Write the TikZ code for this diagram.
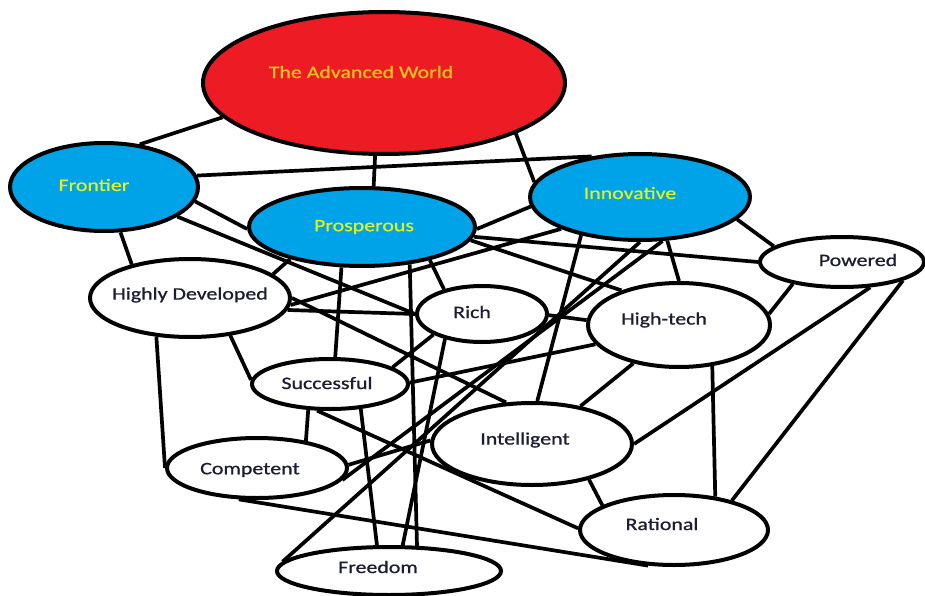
\documentclass[tikz,border=0pt]{standalone}
\usepackage{fontspec}
\setmainfont{Carlito}
\newfontfamily\lblfont{Carlito}[FakeBold=0.7]
\usetikzlibrary{shapes.geometric,backgrounds}
\definecolor{pred}{RGB}{237,28,36}
\definecolor{pblue}{RGB}{0,162,232}
\definecolor{advtxt}{RGB}{250,195,25}
\definecolor{bluetxt}{RGB}{225,240,35}
\definecolor{darktxt}{RGB}{28,28,50}
\newcommand{\mylbl}[1]{\scalebox{1.25}[1]{#1}}
\tikzset{
  ell/.style={ellipse, draw=black, line width=4pt, inner sep=0pt, fill=white},
  lbl/.style={inner sep=0pt, font=\lblfont\fontsize{17.5}{20}\selectfont, text=darktxt},
  edge/.style={line width=3.7pt, black},
}
\begin{document}
\begin{tikzpicture}[x=1pt,y=-1pt]
\useasboundingbox (0,0) rectangle (925,596);
% nodes
\node[ell, fill=pred,  minimum width=362pt, minimum height=142pt] (adv)  at (384,83)  {};
\node[ell, fill=pblue, minimum width=188pt, minimum height=88pt]  (fro)  at (104,187) {};
\node[ell, fill=pblue, minimum width=226pt, minimum height=78pt]  (pro)  at (362,227) {};
\node[ell, fill=pblue, minimum width=220pt, minimum height=86pt]  (inn)  at (640,197) {};
\node[ell, minimum width=200pt, minimum height=78pt] (hd)   at (190,298) {};
\node[ell, minimum width=130pt, minimum height=56pt] (rich) at (482,314) {};
\node[ell, minimum width=182pt, minimum height=84pt] (ht)   at (679,325) {};
\node[ell, minimum width=164pt, minimum height=50pt] (pow)  at (842,262) {};
\node[ell, minimum width=156pt, minimum height=50pt] (suc)  at (330,384) {};
\node[ell, minimum width=200pt, minimum height=82pt] (int)  at (532,444) {};
\node[ell, minimum width=180pt, minimum height=60pt] (com)  at (257,468) {};
\node[ell, minimum width=188pt, minimum height=70pt] (rat)  at (674,530) {};
\node[ell, minimum width=224pt, minimum height=48pt] (fre)  at (389,571) {};
% labels
\node[lbl, text=advtxt]  (advt)  at (361,72)  {\mylbl{The Advanced World}};
\node[lbl, text=bluetxt] (frot)  at (94,185)  {\mylbl{Frontier}};
\node[lbl, text=bluetxt] (prot)  at (364,227) {\mylbl{Prosperous}};
\node[lbl, text=bluetxt] (innt)  at (630,193) {\mylbl{Innovative}};
\node[lbl] (hdt)   at (190,295) {\mylbl{Highly Developed}};
\node[lbl] (richt) at (472,312) {\mylbl{Rich}};
\node[lbl] (htt)   at (664,320) {\mylbl{High-tech}};
\node[lbl] (powt)  at (858,260) {\mylbl{Powered}};
\node[lbl] (suct)  at (327,383) {\mylbl{Successful}};
\node[lbl] (intt)  at (525,440) {\mylbl{Intelligent}};
\node[lbl] (comt)  at (250,470) {\mylbl{Competent}};
\node[lbl] (ratt)  at (662,524) {\mylbl{Rational}};
\node[lbl] (fret)  at (378,567) {\mylbl{Freedom}};
% edges
\begin{scope}[on background layer]
\draw[edge] (adv.192) -- (fro.50);
\draw[edge] (adv.263) -- (pro.74);
\draw[edge] (adv.339) -- (inn.172);
\draw[edge] (fro.7)   -- (inn.140);
\draw[edge] (fro.351) -- (pro.181);
\draw[edge] (fro.338) -- (rich.180);
\draw[edge] (fro.290) -- (hd.150);
\draw[edge] (hd.16)   -- (pro.204);
\draw[edge] (hd.356)  -- (inn.202);
\draw[edge] (hd.353)  -- (rich.180);
\draw[edge] (hd.0)    -- (int.122);
\draw[edge] (hd.317)  -- (suc.177);
\draw[edge] (hd.229)  -- (com.180);
\draw[edge] (pro.243) -- (suc.79);
\draw[edge] (pro.334) -- (rich.147);
\draw[edge] (pro.322) -- (fre.42);
\draw[edge] (pro.359) -- (inn.185);
\draw[edge] (pro.355) -- (pow.180);
\draw[edge] (pro.353) -- (ht.149);
\draw[edge] (rich.214) -- (fre.62);
\draw[edge] (rich.203) -- (suc.15);
\draw[edge] (rich.359) -- (ht.177);
\draw[edge] (suc.321) -- (fre.115);
\draw[edge] (suc.230) -- (com.29);
\draw[edge] (suc.244) -- (rat.179);
\draw[edge] (suc.1)   -- (ht.193);
\draw[edge] (com.2)   -- (int.178);
\draw[edge] (com.352) -- (inn.297);
\draw[edge] (com.240) -- (rat.234);
\draw[edge] (fre.175) -- (inn.270);
\draw[edge] (inn.213) -- (int.83);
\draw[edge] (inn.302) -- (ht.90);
\draw[edge] (inn.347) -- (pow.167);
\draw[edge] (pow.204) -- (ht.7);
\draw[edge] (pow.318) -- (int.0);
\draw[edge] (pow.343) -- (rat.27);
\draw[edge] (ht.309)  -- (rat.39);
\draw[edge] (ht.220)  -- (int.38);
\draw[edge] (int.328) -- (rat.161);
\end{scope}
\end{tikzpicture}
\end{document}
